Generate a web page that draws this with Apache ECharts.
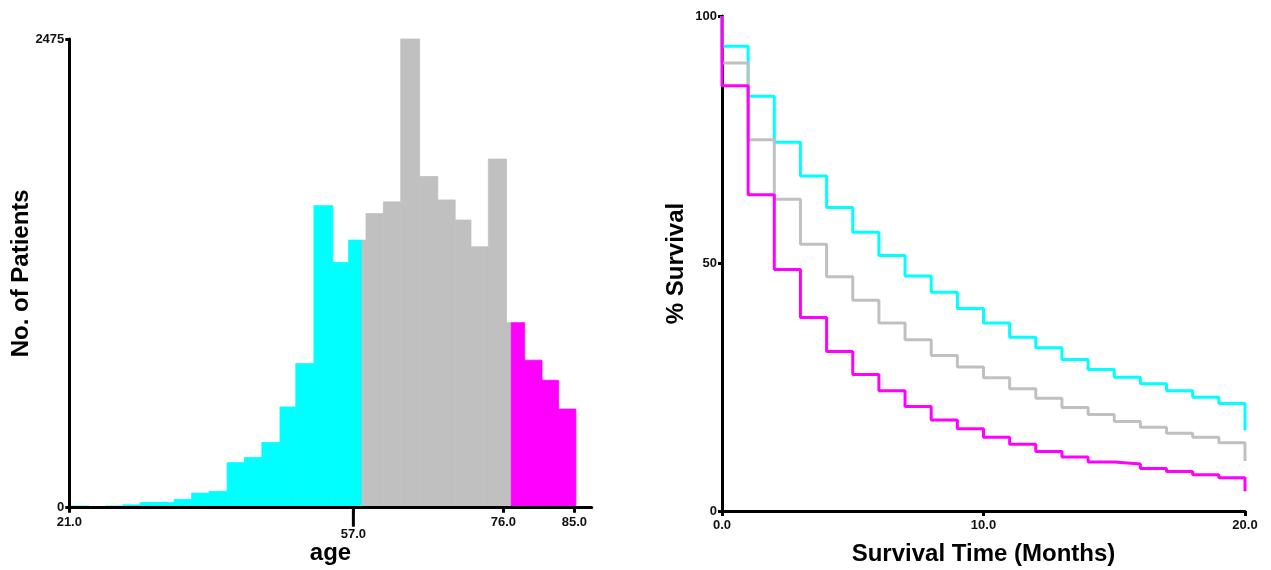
<!DOCTYPE html>
<html>
<head>
<meta charset="utf-8">
<script src="https://cdn.jsdelivr.net/npm/echarts@6/dist/echarts.min.js"></script>
<style>
  html, body { margin: 0; padding: 0; background: #fff; }
  #chart { width: 1271px; height: 570px; }
</style>
</head>
<body>
<div id="chart"></div>
<script>
// ---- Histogram of age: [binStart, binEnd, patients] ----
const cyanBins = [
  [21.0, 23.5, 9], [23.5, 25.6, 3], [25.6, 27.8, 9], [27.8, 30.0, 15],
  [30.0, 32.2, 28], [32.2, 34.3, 28], [34.3, 36.5, 44], [36.5, 38.7, 77],
  [38.7, 41.0, 86], [41.0, 43.2, 238], [43.2, 45.4, 265], [45.4, 47.7, 344],
  [47.7, 49.7, 532], [49.7, 52.0, 761], [52.0, 54.4, 1595], [54.4, 56.4, 1295],
  [56.4, 58.1, 1413]
];
const grayBins = [
  [58.1, 58.6, 1413], [58.6, 60.8, 1553], [60.8, 63.0, 1615], [63.0, 65.4, 2475],
  [65.4, 67.7, 1749], [67.7, 69.9, 1625], [69.9, 71.9, 1519], [71.9, 74.1, 1378],
  [74.1, 76.4, 1841], [76.4, 77.0, 977]
];
const magentaBins = [
  [77.0, 78.7, 977], [78.7, 80.9, 779], [80.9, 83.0, 673], [83.0, 85.2, 521]
];
const ageTicks = [21, 57, 76, 85];
const ageLongTick = [57];
const patientTicks = [0, 2475];

// ---- Survival curves (% surviving per monthly interval) ----
const stepMonths = [0, 1, 2, 3, 4, 5, 6, 7, 8, 9, 10, 11, 12, 13, 14, 15, 16, 17, 18, 19, 20];
const survCyan = [93.9, 83.8, 74.5, 67.7, 61.3, 56.3, 51.6, 47.5, 44.2, 40.9, 38.0, 35.1, 33.0, 30.6, 28.6, 27.0, 25.7, 24.3, 23.0, 21.7];
const survGray = [90.5, 75.0, 63.0, 53.9, 47.3, 42.6, 38.0, 34.6, 31.4, 29.1, 26.9, 24.7, 22.8, 20.9, 19.5, 18.1, 16.9, 15.7, 14.9, 13.8];
const survMagenta = [85.9, 63.9, 48.8, 39.1, 32.2, 27.6, 24.3, 21.1, 18.4, 16.6, 14.9, 13.5, 12.0, 10.9, 9.9, 9.5, 8.6, 8.0, 7.3, 6.7];
const survEnd = { cyan: 16.3, gray: 10.1, magenta: 4.0 };

const C_CYAN = '#00FFFF', C_GRAY = '#C0C0C0', C_MAG = '#FF00FF';
const FONT = 'Liberation Sans, Arial, sans-serif';

function stepPoints(vals, endVal) {
  const pts = [[stepMonths[0], 100]];
  for (let i = 0; i < vals.length; i++) {
    pts.push([stepMonths[i], vals[i]]);
    pts.push([stepMonths[i + 1], vals[i]]);
  }
  pts.push([stepMonths[stepMonths.length - 1], endVal]);
  return pts;
}

function histSeries(bins, color) {
  return {
    type: 'custom',
    xAxisIndex: 0,
    yAxisIndex: 0,
    data: bins,
    encode: { x: [0, 1], y: 2 },
    renderItem: function (params, api) {
      const p0 = api.coord([api.value(0), 0]);
      const p1 = api.coord([api.value(1), api.value(2)]);
      return {
        type: 'rect',
        shape: { x: p0[0], y: p1[1], width: p1[0] - p0[0], height: p0[1] - p1[1] },
        style: { fill: color, stroke: color, lineWidth: 0.8 }
      };
    }
  };
}

const tickLabel = { fontFamily: FONT, fontWeight: 'bold', fontSize: 13, color: '#111' };
const axisName = { fontFamily: FONT, fontWeight: 'bold', fontSize: 24, color: '#000' };
const blackLine = { color: '#000', width: 3 };

const chart = echarts.init(document.getElementById('chart'), null, { renderer: 'canvas' });
chart.setOption({
  animation: false,
  backgroundColor: '#fff',
  grid: [
    { left: 69.3, right: 679.3, top: 39, bottom: 62.3, containLabel: false, outerBoundsMode: 'none' },
    { left: 722, right: 26, top: 16, bottom: 59, containLabel: false, outerBoundsMode: 'none' }
  ],
  xAxis: [
    {
      gridIndex: 0, type: 'value', min: 21, max: 87.2, z: 10,
      axisLine: { show: true, onZero: false, lineStyle: blackLine },
      axisTick: { show: true, customValues: ageTicks, length: 5, lineStyle: blackLine },
      axisLabel: Object.assign({
        customValues: ageTicks, margin: 8,
        formatter: v => (v === 57 ? '{low|' + v.toFixed(1) + '}' : v.toFixed(1)),
        rich: { low: { fontFamily: FONT, fontWeight: 'bold', fontSize: 13, color: '#111', padding: [12, 0, 0, 0] } }
      }, tickLabel),
      splitLine: { show: false },
      name: 'age', nameLocation: 'middle', nameGap: 34, nameMoveOverlap: false, nameTextStyle: axisName
    },
    {
      gridIndex: 1, type: 'value', min: 0, max: 20, interval: 10, z: 1,
      axisLine: { show: true, onZero: false, lineStyle: blackLine },
      axisTick: { show: true, length: 5, lineStyle: blackLine },
      axisLabel: Object.assign({ margin: 8, formatter: v => v.toFixed(1) }, tickLabel),
      splitLine: { show: false },
      name: 'Survival Time (Months)', nameLocation: 'middle', nameGap: 31, nameMoveOverlap: false, nameTextStyle: axisName
    }
  ],
  yAxis: [
    {
      gridIndex: 0, type: 'value', min: 0, max: 2475, z: 10,
      axisLine: { show: true, onZero: false, lineStyle: blackLine },
      axisTick: { show: true, customValues: patientTicks, length: 4, lineStyle: blackLine },
      axisLabel: Object.assign({ customValues: patientTicks, margin: 5, formatter: v => String(v) }, tickLabel),
      splitLine: { show: false },
      name: 'No. of Patients', nameLocation: 'middle', nameGap: 36, nameRotate: 90, nameMoveOverlap: false, nameTextStyle: axisName
    },
    {
      gridIndex: 1, type: 'value', min: 0, max: 100, interval: 50, z: 1,
      axisLine: { show: true, onZero: false, lineStyle: blackLine },
      axisTick: { show: true, length: 4, lineStyle: blackLine },
      axisLabel: Object.assign({ margin: 5, formatter: v => String(v) }, tickLabel),
      splitLine: { show: false },
      name: '% Survival', nameLocation: 'middle', nameGap: 34, nameRotate: 90, nameMoveOverlap: false, nameTextStyle: axisName
    }
  ],
  series: [
    histSeries(cyanBins, C_CYAN),
    histSeries(grayBins, C_GRAY),
    histSeries(magentaBins, C_MAG),
    {
      // long tick under the 57.0 label
      type: 'custom', xAxisIndex: 0, yAxisIndex: 0, clip: false, z: 11,
      data: ageLongTick.map(v => [v, 0]),
      encode: { x: 0, y: 1 },
      renderItem: function (params, api) {
        const p = api.coord([api.value(0), api.value(1)]);
        return {
          type: 'line',
          shape: { x1: p[0], y1: p[1], x2: p[0], y2: p[1] + 19 },
          style: { stroke: '#000', lineWidth: 3 }
        };
      }
    },
    { type: 'line', xAxisIndex: 1, yAxisIndex: 1, data: stepPoints(survCyan, survEnd.cyan), showSymbol: false, symbol: 'none', lineStyle: { color: C_CYAN, width: 3 }, z: 3 },
    { type: 'line', xAxisIndex: 1, yAxisIndex: 1, data: stepPoints(survGray, survEnd.gray), showSymbol: false, symbol: 'none', lineStyle: { color: C_GRAY, width: 3 }, z: 4 },
    { type: 'line', xAxisIndex: 1, yAxisIndex: 1, data: stepPoints(survMagenta, survEnd.magenta), showSymbol: false, symbol: 'none', lineStyle: { color: C_MAG, width: 3 }, z: 5 }
  ]
});
</script>
</body>
</html>
